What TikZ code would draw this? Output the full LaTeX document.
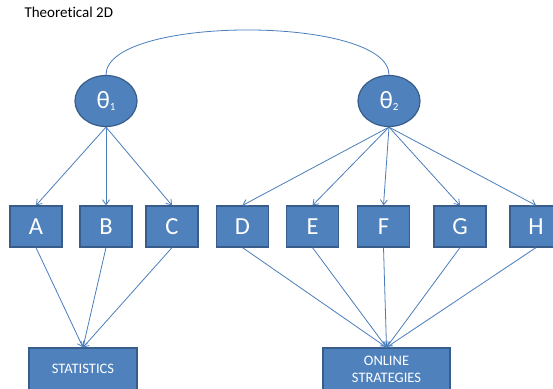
\documentclass[tikz,border=0pt]{standalone}
\usepackage{fontspec}
\setmainfont{Carlito}[RawFeature=-liga]
\usetikzlibrary{arrows.meta,shapes.geometric}
\definecolor{boxfill}{HTML}{4F81BD}
\definecolor{boxline}{HTML}{385D8A}
\definecolor{linkline}{HTML}{4A7EBB}
\newcommand{\thsub}[1]{\raisebox{-0.05em}{\fontsize{11}{11}\selectfont #1}}
\tikzset{
  latent/.style={ellipse, draw=boxline, line width=1.2pt, fill=boxfill,
    minimum width=62pt, minimum height=51pt, inner sep=0pt, text=white,
    font=\fontsize{25}{29}\selectfont},
  item/.style={rectangle, draw=boxline, line width=1.2pt, fill=boxfill,
    minimum width=52pt, minimum height=41pt, inner sep=0pt, text=white,
    font=\fontsize{24.5}{28}\selectfont},
  factor/.style={rectangle, draw=boxline, line width=1.2pt, fill=boxfill,
    minimum height=42pt, inner sep=0pt, text=white, align=center,
    font=\fontsize{14.5}{17}\selectfont},
  link/.style={draw=linkline, line width=0.8pt,
    -{Straight Barb[length=5pt,width=7pt]}},
  corr/.style={draw=linkline, line width=0.8pt}
}
\begin{document}
\begin{tikzpicture}[x=1pt, y=-1pt]
\clip (0,0) rectangle (553,388);
\fill[white] (0,0) rectangle (553,388);

\node[anchor=base west, font=\fontsize{15}{18}\selectfont, text=black]
  (title) at (21,17) {Theoretical 2D};

% latent traits
\node[latent] (t1) at (106,101) {θ\thsub{1}};
\node[latent] (t2) at (389,101) {θ\thsub{2}};

% observed items
\node[item] (A) at (36,226.5) {A};
\node[item] (B) at (106,226.5) {B};
\node[item] (C) at (172,226.5) {C};
\node[item] (D) at (242.5,226.5) {D};
\node[item] (E) at (312.5,226.5) {E};
\node[item] (F) at (383.5,226.5) {F};
\node[item] (G) at (460,226.5) {G};
\node[item] (H) at (536,226.5) {H};

% outcome boxes
\node[factor, minimum width=108pt] (stat) at (83,369) {STATISTICS};
\node[factor, minimum width=127pt] (online) at (386.5,369) {ONLINE\\STRATEGIES};

% correlation between the traits
\draw[corr] (t1.north) .. controls (106,15) and (389,15) .. (t2.north);

% loadings
\foreach \i in {A,B,C} \draw[link] (t1.south) -- (\i.north);
\foreach \i in {D,E,F,G,H} \draw[link] (t2.south) -- (\i.north);

% items to outcomes
\foreach \i in {A,B,C} \draw[link] (\i.south) -- (stat.north);
\foreach \i in {D,E,F,G,H} \draw[link] (\i.south) -- (online.north);
\end{tikzpicture}
\end{document}
